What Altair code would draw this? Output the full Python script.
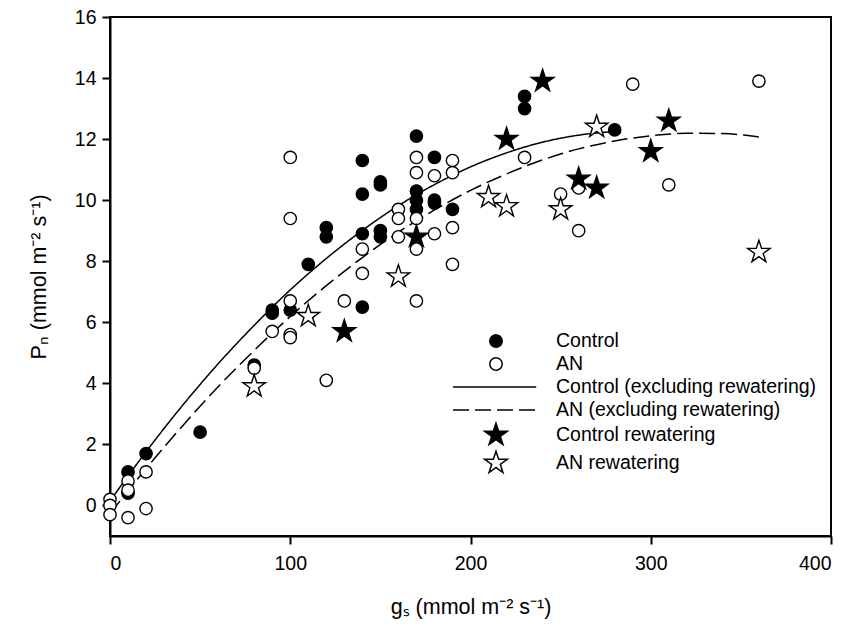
import altair as alt
import pandas as pd

# Control (filled circles)
ctrl_x = [10, 10, 20, 50, 80, 90, 90, 100, 110, 120, 120, 140, 140, 140, 140,
          150, 150, 150, 150, 170, 170, 170, 170, 180, 180, 180, 190, 230, 230, 280]
ctrl_y = [1.1, 0.4, 1.7, 2.4, 4.6, 6.4, 6.3, 6.4, 7.9, 9.1, 8.8, 11.3, 10.2, 8.9, 6.5,
          10.6, 10.5, 9.0, 8.8, 12.1, 10.3, 10.0, 9.7, 11.4, 10.0, 9.9, 9.7, 13.4, 13.0, 12.3]

# AN (open circles)
an_x = [0, 0, 0, 10, 10, 10, 20, 20, 80, 90, 100, 100, 100, 100, 100, 120, 130, 140, 140,
        160, 160, 160, 170, 170, 170, 170, 170, 180, 180, 190, 190, 190, 190,
        230, 250, 260, 260, 290, 310, 360]
an_y = [0.2, 0.0, -0.3, 0.8, 0.5, -0.4, 1.1, -0.1, 4.5, 5.7, 11.4, 9.4, 6.7, 5.6, 5.5, 4.1, 6.7, 8.4, 7.6,
        9.7, 9.4, 8.8, 11.4, 10.9, 9.4, 8.4, 6.7, 10.8, 8.9, 11.3, 10.9, 9.1, 7.9,
        11.4, 10.2, 10.4, 9.0, 13.8, 10.5, 13.9]

# Control rewatering (filled stars)
crw_x = [130, 170, 220, 240, 260, 270, 300, 310]
crw_y = [5.7, 8.8, 12.0, 13.9, 10.7, 10.4, 11.6, 12.6]

# AN rewatering (open stars)
arw_x = [80, 110, 160, 210, 220, 250, 270, 360]
arw_y = [3.9, 6.2, 7.5, 10.1, 9.8, 9.7, 12.4, 8.3]

# Fitted curves
cfit_x = [0, 20, 40, 60, 80, 100, 120, 140, 160, 180, 200, 220, 240, 260, 280]
cfit_y = [0.15, 1.76, 3.26, 4.64, 5.90, 7.06, 8.09, 9.01, 9.82, 10.51, 11.09, 11.55, 11.90, 12.13, 12.25]
afit_x = [0, 20, 40, 60, 80, 100, 120, 140, 160, 180, 200, 220, 240, 260, 280, 300, 320, 340, 360]
afit_y = [-0.27, 1.21, 2.59, 3.89, 5.08, 6.19, 7.20, 8.12, 8.95, 9.68, 10.32, 10.86, 11.32, 11.68,
          11.94, 12.11, 12.19, 12.18, 12.07]

series = ["Control", "AN", "Control (excluding rewatering)", "AN (excluding rewatering)",
          "Control rewatering", "AN rewatering"]

# symbol paths (unit box), all drawn at the same symbol size
STAR = ("M0,-1L0.2245,-0.309L0.951,-0.309L0.363,0.118L0.588,0.809L0,0.382"
        "L-0.588,0.809L-0.363,0.118L-0.951,-0.309L-0.2245,-0.309Z")
CIRC = "M-0.52,0A0.52,0.52 0 1,0 0.52,0A0.52,0.52 0 1,0 -0.52,0Z"
LINE = "M-3.63,0L3.4,0"

pts = pd.concat([
    pd.DataFrame({"gs": ctrl_x, "pn": ctrl_y, "series": series[0]}),
    pd.DataFrame({"gs": an_x, "pn": an_y, "series": series[1]}),
    pd.DataFrame({"gs": crw_x, "pn": crw_y, "series": series[4]}),
    pd.DataFrame({"gs": arw_x, "pn": arw_y, "series": series[5]}),
], ignore_index=True)

fits = pd.concat([
    pd.DataFrame({"gs": cfit_x, "pn": cfit_y, "series": series[2]}),
    pd.DataFrame({"gs": afit_x, "pn": afit_y, "series": series[3]}),
], ignore_index=True)

FONT = "Arial, Liberation Sans, sans-serif"

leg = alt.Legend(title=None, orient="none", legendX=373, legendY=311, padding=0,
                 labelFont=FONT, labelFontSize=19.5, labelColor="black",
                 symbolStrokeColor="black", symbolStrokeWidth=1.5,
                 labelOffset=47, rowPadding=0, labelLimit=400)

xs = alt.Scale(domain=[0, 400], nice=False, zero=False)
ys = alt.Scale(domain=[-1, 16], nice=False, zero=False)

xax = alt.Axis(values=[0, 100, 200, 300, 400], title="gₛ (mmol m⁻² s⁻¹)", grid=False)
yax = alt.Axis(values=list(range(0, 17, 2)), title="Pₙ (mmol m⁻² s⁻¹)", grid=False)

stroke_scale = alt.Scale(domain=series, range=["black"] * 6)

lines = alt.Chart(fits).mark_line(strokeWidth=1.5, interpolate="monotone").encode(
    x=alt.X("gs:Q", scale=xs, axis=xax),
    y=alt.Y("pn:Q", scale=ys, axis=yax),
    stroke=alt.Stroke("series:N", legend=leg, scale=stroke_scale),
    strokeDash=alt.StrokeDash("series:N", legend=leg, scale=alt.Scale(
        domain=series, range=[[1, 0], [1, 0], [1, 0], [16, 6], [1, 0], [1, 0]])),
)

points = alt.Chart(pts).mark_point(opacity=1, strokeWidth=1.4).encode(
    x=alt.X("gs:Q", scale=xs, axis=xax),
    y=alt.Y("pn:Q", scale=ys, axis=yax),
    stroke=alt.Stroke("series:N", legend=leg, scale=stroke_scale),
    shape=alt.Shape("series:N", legend=leg, scale=alt.Scale(
        domain=series, range=[CIRC, CIRC, LINE, LINE, STAR, STAR])),
    fill=alt.Fill("series:N", legend=leg, scale=alt.Scale(
        domain=series, range=["black", "white", "white", "white", "black", "white"])),
    size=alt.Size("series:N", legend=leg, scale=alt.Scale(
        type="ordinal", domain=series, range=[560] * 6)),
)

chart = alt.layer(lines, points).properties(
    width=721, height=519,
    autosize=alt.AutoSizeParams(type="none"),
    padding={"left": 110, "top": 17, "right": 29, "bottom": 92},
    background="white",
).configure_view(
    stroke="black", strokeWidth=2
).configure_axis(
    domainColor="black", domainWidth=2, tickColor="black", tickWidth=2, tickSize=8,
    labelFont=FONT, labelFontSize=19.5, labelColor="black", labelPadding=6,
    titleFont=FONT, titleFontSize=21.5, titleFontWeight="normal", titleColor="black",
).configure_axisX(titlePadding=24, labelPadding=10).configure_axisY(titlePadding=24)

chart.save("out.html", embed_options={"renderer": "svg", "actions": False})
